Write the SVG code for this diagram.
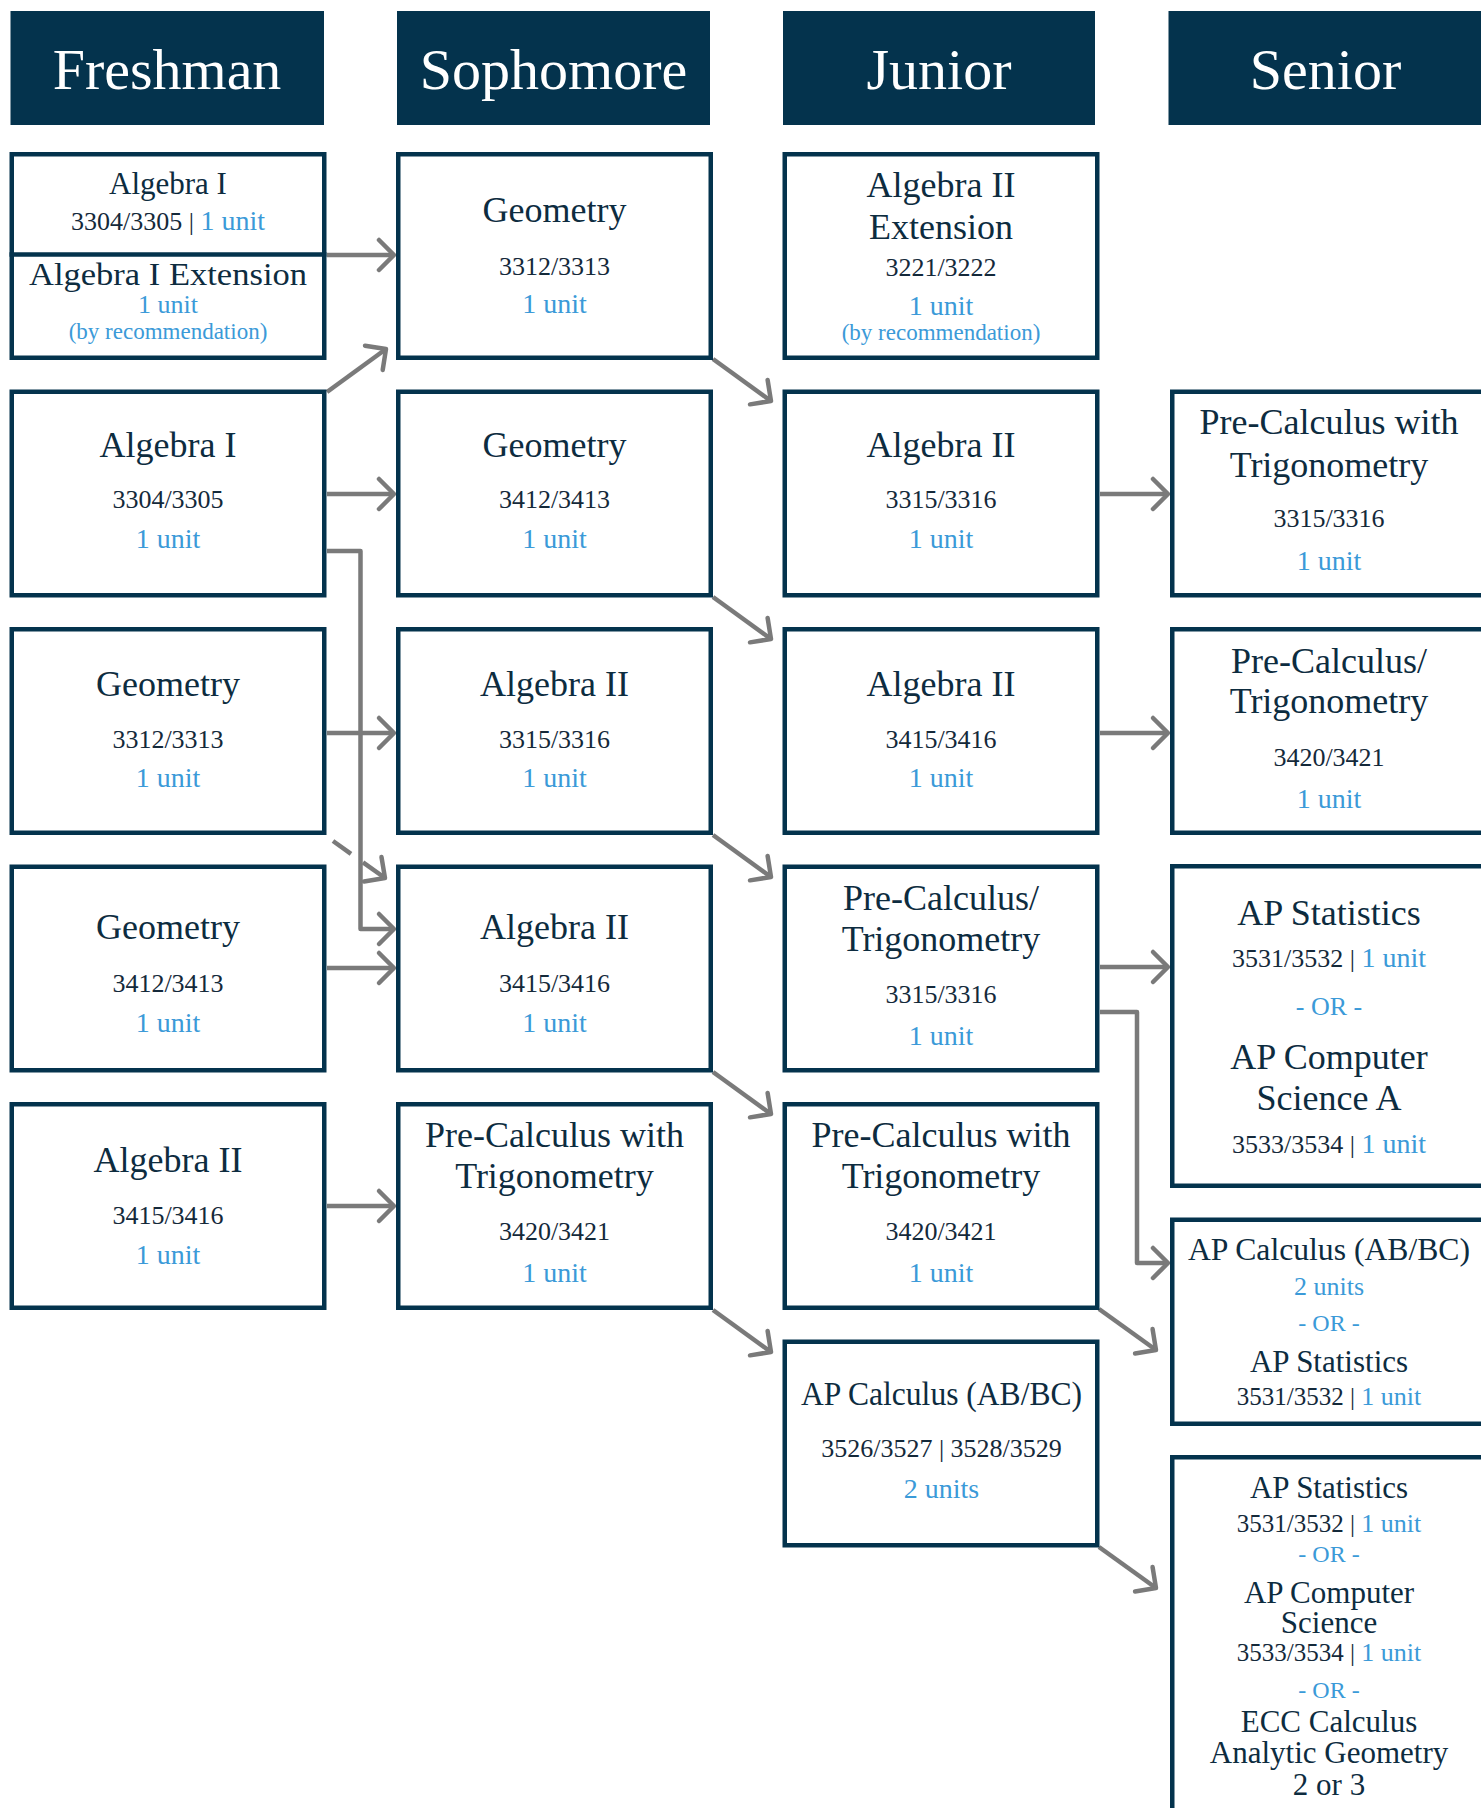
<svg xmlns="http://www.w3.org/2000/svg" width="1481" height="1808" viewBox="0 0 1481 1808">
<style>
.hdr{fill:#04334d}
.ht{font-family:"Liberation Serif","DejaVu Serif",serif;font-size:58px;fill:#ffffff;text-anchor:middle}
.box{fill:#ffffff;stroke:#04334d;stroke-width:4.5}
text{font-family:"Liberation Serif","DejaVu Serif",serif;text-anchor:middle}
.t{font-size:36px;fill:#0d2c3f}
.s{font-size:33px;fill:#0d2c3f}
.s2{font-size:31px;fill:#0d2c3f}
.c{font-size:26px;fill:#14293a}
.c2{font-size:25px;fill:#14293a}
.u{font-size:28px;fill:#3b9ad8}
.u2{font-size:26px;fill:#3b9ad8}
.r{font-size:23px;fill:#3b9ad8}
.or{font-size:26px;fill:#3b9ad8}
.or2{font-size:24px;fill:#3b9ad8}
.con{stroke:#7a7a7a;stroke-width:4.5;fill:none;stroke-linejoin:round}
</style>
<defs>
<marker id="ah" markerUnits="userSpaceOnUse" viewBox="-20 -20 24 40" markerWidth="24" markerHeight="40" refX="0" refY="0" orient="auto">
<path d="M-15,-15 L0,0 L-15,15" fill="none" stroke="#7a7a7a" stroke-width="4.5" stroke-linecap="round" stroke-linejoin="round"/>
</marker>
</defs>

<g id="headers">
<g id="h-freshman"><rect class="hdr" x="10.5" y="11" width="313.5" height="114"/><text class="ht" x="167" y="89">Freshman</text></g>
<g id="h-sophomore"><rect class="hdr" x="397" y="11" width="313" height="114"/><text class="ht" x="553.5" y="89">Sophomore</text></g>
<g id="h-junior"><rect class="hdr" x="783" y="11" width="312" height="114"/><text class="ht" x="939" y="89">Junior</text></g>
<g id="h-senior"><rect class="hdr" x="1168.5" y="11" width="314" height="114"/><text class="ht" x="1325.5" y="89">Senior</text></g>
</g>

<g id="connectors">
<path class="con" d="M327,255 H394" marker-end="url(#ah)"/>
<path class="con" d="M327,392 L386,349" marker-end="url(#ah)"/>
<path class="con" d="M327,494 H394" marker-end="url(#ah)"/>
<path class="con" d="M327,551 H360.5 V929 H394" marker-end="url(#ah)"/>
<path class="con" d="M327,733 H394" marker-end="url(#ah)"/>
<path class="con" d="M333,841 L351,853.8"/>
<path class="con" d="M363,862.3 L385,878" marker-end="url(#ah)"/>
<path class="con" d="M327,968 H394" marker-end="url(#ah)"/>
<path class="con" d="M327,1206 H394" marker-end="url(#ah)"/>
<path class="con" d="M713,359 L771,401" marker-end="url(#ah)"/>
<path class="con" d="M713,597 L771,639" marker-end="url(#ah)"/>
<path class="con" d="M713,835 L771,877" marker-end="url(#ah)"/>
<path class="con" d="M713,1072 L771,1114" marker-end="url(#ah)"/>
<path class="con" d="M713,1310 L771,1352" marker-end="url(#ah)"/>
<path class="con" d="M1100,494 H1168" marker-end="url(#ah)"/>
<path class="con" d="M1100,733 H1168" marker-end="url(#ah)"/>
<path class="con" d="M1100,967 H1168" marker-end="url(#ah)"/>
<path class="con" d="M1100,1012 H1137 V1263 H1168" marker-end="url(#ah)"/>
<path class="con" d="M1099,1309 L1156,1350" marker-end="url(#ah)"/>
<path class="con" d="M1099,1547 L1156,1588" marker-end="url(#ah)"/>
</g>

<!-- Freshman -->
<g id="fr-alg1-ext">
<rect class="box" x="11.75" y="154.25" width="312.5" height="203.5"/>
<line x1="9.5" y1="254.5" x2="326.5" y2="254.5" stroke="#04334d" stroke-width="4.5"/>
<text class="s2" x="168" y="194">Algebra I</text>
<text x="168" y="230"><tspan class="c">3304/3305 | </tspan><tspan class="u">1 unit</tspan></text>
<text class="s2" x="168" y="285" textLength="278" lengthAdjust="spacingAndGlyphs">Algebra I Extension</text>
<text class="u2" x="168" y="313">1 unit</text>
<text class="r" x="168" y="339">(by recommendation)</text>
</g>
<g id="fr-alg1">
<rect class="box" x="11.75" y="391.75" width="312.5" height="203.5"/>
<text class="t" x="168" y="457">Algebra I</text>
<text class="c" x="168" y="508">3304/3305</text>
<text class="u" x="168" y="548">1 unit</text>
</g>
<g id="fr-geom-3312">
<rect class="box" x="11.75" y="629.25" width="312.5" height="203.5"/>
<text class="t" x="168" y="696">Geometry</text>
<text class="c" x="168" y="748">3312/3313</text>
<text class="u" x="168" y="787">1 unit</text>
</g>
<g id="fr-geom-3412">
<rect class="box" x="11.75" y="866.75" width="312.5" height="203.5"/>
<text class="t" x="168" y="939">Geometry</text>
<text class="c" x="168" y="992">3412/3413</text>
<text class="u" x="168" y="1032">1 unit</text>
</g>
<g id="fr-alg2">
<rect class="box" x="11.75" y="1104.25" width="312.5" height="203.5"/>
<text class="t" x="168" y="1172">Algebra II</text>
<text class="c" x="168" y="1224">3415/3416</text>
<text class="u" x="168" y="1264">1 unit</text>
</g>

<!-- Sophomore -->
<g id="so-geom-3312">
<rect class="box" x="398.25" y="154.25" width="312.5" height="203.5"/>
<text class="t" x="554.5" y="222">Geometry</text>
<text class="c" x="554.5" y="275">3312/3313</text>
<text class="u" x="554.5" y="313">1 unit</text>
</g>
<g id="so-geom-3412">
<rect class="box" x="398.25" y="391.75" width="312.5" height="203.5"/>
<text class="t" x="554.5" y="457">Geometry</text>
<text class="c" x="554.5" y="508">3412/3413</text>
<text class="u" x="554.5" y="548">1 unit</text>
</g>
<g id="so-alg2-3315">
<rect class="box" x="398.25" y="629.25" width="312.5" height="203.5"/>
<text class="t" x="554.5" y="696">Algebra II</text>
<text class="c" x="554.5" y="748">3315/3316</text>
<text class="u" x="554.5" y="787">1 unit</text>
</g>
<g id="so-alg2-3415">
<rect class="box" x="398.25" y="866.75" width="312.5" height="203.5"/>
<text class="t" x="554.5" y="939">Algebra II</text>
<text class="c" x="554.5" y="992">3415/3416</text>
<text class="u" x="554.5" y="1032">1 unit</text>
</g>
<g id="so-precalc-trig">
<rect class="box" x="398.25" y="1104.25" width="312.5" height="203.5"/>
<text class="t" x="554.5" y="1147">Pre-Calculus with</text>
<text class="t" x="554.5" y="1188">Trigonometry</text>
<text class="c" x="554.5" y="1240">3420/3421</text>
<text class="u" x="554.5" y="1282">1 unit</text>
</g>

<!-- Junior -->
<g id="jr-alg2-ext">
<rect class="box" x="784.75" y="154.25" width="312.5" height="203.5"/>
<text class="t" x="941" y="197">Algebra II</text>
<text class="t" x="941" y="239">Extension</text>
<text class="c" x="941" y="276">3221/3222</text>
<text class="u" x="941" y="315">1 unit</text>
<text class="r" x="941" y="340">(by recommendation)</text>
</g>
<g id="jr-alg2-3315">
<rect class="box" x="784.75" y="391.75" width="312.5" height="203.5"/>
<text class="t" x="941" y="457">Algebra II</text>
<text class="c" x="941" y="508">3315/3316</text>
<text class="u" x="941" y="548">1 unit</text>
</g>
<g id="jr-alg2-3415">
<rect class="box" x="784.75" y="629.25" width="312.5" height="203.5"/>
<text class="t" x="941" y="696">Algebra II</text>
<text class="c" x="941" y="748">3415/3416</text>
<text class="u" x="941" y="787">1 unit</text>
</g>
<g id="jr-precalc-slash">
<rect class="box" x="784.75" y="866.75" width="312.5" height="203.5"/>
<text class="t" x="941" y="910">Pre-Calculus/</text>
<text class="t" x="941" y="951">Trigonometry</text>
<text class="c" x="941" y="1003">3315/3316</text>
<text class="u" x="941" y="1045">1 unit</text>
</g>
<g id="jr-precalc-trig">
<rect class="box" x="784.75" y="1104.25" width="312.5" height="203.5"/>
<text class="t" x="941" y="1147">Pre-Calculus with</text>
<text class="t" x="941" y="1188">Trigonometry</text>
<text class="c" x="941" y="1240">3420/3421</text>
<text class="u" x="941" y="1282">1 unit</text>
</g>
<g id="jr-ap-calc">
<rect class="box" x="784.75" y="1341.75" width="312.5" height="203.5"/>
<text class="s" x="941.5" y="1405" textLength="281" lengthAdjust="spacingAndGlyphs">AP Calculus (AB/BC)</text>
<text class="c" x="941.5" y="1457">3526/3527 | 3528/3529</text>
<text class="u" x="941.5" y="1498">2 units</text>
</g>

<!-- Senior -->
<g id="sr-precalc-trig">
<rect class="box" x="1172.25" y="391.75" width="330" height="203.5"/>
<text class="t" x="1329" y="434">Pre-Calculus with</text>
<text class="t" x="1329" y="476.5">Trigonometry</text>
<text class="c" x="1329" y="527">3315/3316</text>
<text class="u" x="1329" y="570">1 unit</text>
</g>
<g id="sr-precalc-slash">
<rect class="box" x="1172.25" y="629.25" width="330" height="203.5"/>
<text class="t" x="1329" y="672.7">Pre-Calculus/</text>
<text class="t" x="1329" y="713.3">Trigonometry</text>
<text class="c" x="1329" y="765.7">3420/3421</text>
<text class="u" x="1329" y="807.7">1 unit</text>
</g>
<g id="sr-apstat-apcs">
<rect class="box" x="1172.25" y="866.25" width="330" height="319.5"/>
<text class="t" x="1329" y="925">AP Statistics</text>
<text x="1329" y="966.7"><tspan class="c">3531/3532 | </tspan><tspan class="u">1 unit</tspan></text>
<text class="or" x="1329" y="1015">- OR -</text>
<text class="t" x="1329" y="1069">AP Computer</text>
<text class="t" x="1329" y="1110">Science A</text>
<text x="1329" y="1152.7"><tspan class="c">3533/3534 | </tspan><tspan class="u">1 unit</tspan></text>
</g>
<g id="sr-apcalc-apstat">
<rect class="box" x="1172.25" y="1219.75" width="330" height="204"/>
<text class="s2" x="1329" y="1260" textLength="282" lengthAdjust="spacingAndGlyphs">AP Calculus (AB/BC)</text>
<text class="u2" x="1329" y="1295">2 units</text>
<text class="or2" x="1329" y="1331">- OR -</text>
<text class="s2" x="1329" y="1372">AP Statistics</text>
<text x="1329" y="1405"><tspan class="c2">3531/3532 | </tspan><tspan class="u2">1 unit</tspan></text>
</g>
<g id="sr-options">
<rect class="box" x="1172.25" y="1457.25" width="330" height="400"/>
<text class="s2" x="1329" y="1498">AP Statistics</text>
<text x="1329" y="1532"><tspan class="c2">3531/3532 | </tspan><tspan class="u2">1 unit</tspan></text>
<text class="or2" x="1329" y="1562">- OR -</text>
<text class="s2" x="1329" y="1603">AP Computer</text>
<text class="s2" x="1329" y="1633">Science</text>
<text x="1329" y="1661"><tspan class="c2">3533/3534 | </tspan><tspan class="u2">1 unit</tspan></text>
<text class="or2" x="1329" y="1698">- OR -</text>
<text class="s2" x="1329" y="1732">ECC Calculus</text>
<text class="s2" x="1329" y="1763">Analytic Geometry</text>
<text class="s2" x="1329" y="1795">2 or 3</text>
</g>
</svg>
